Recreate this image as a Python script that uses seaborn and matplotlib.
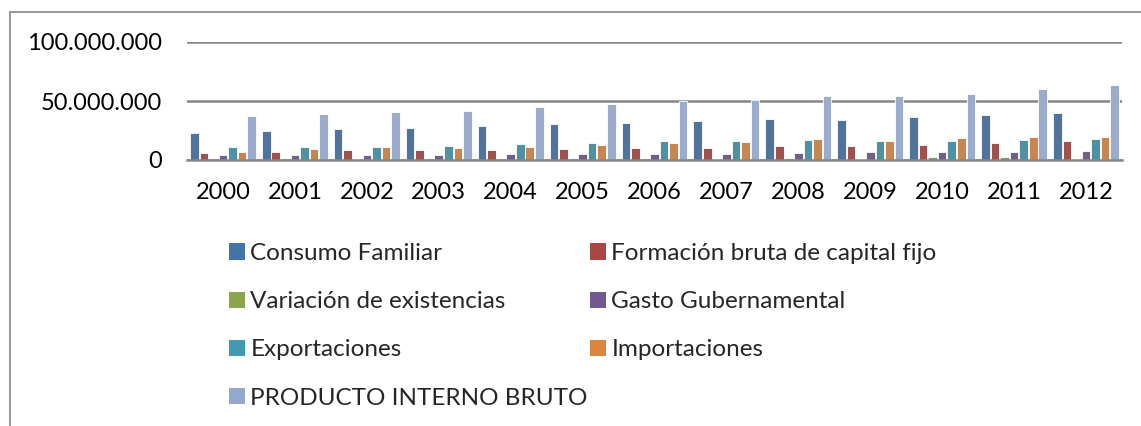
import pandas as pd
import matplotlib.pyplot as plt
import matplotlib.patches as mpatches
from matplotlib.lines import Line2D
from matplotlib.ticker import FuncFormatter
import seaborn as sns

years = ["2000", "2001", "2002", "2003", "2004", "2005", "2006",
         "2007", "2008", "2009", "2010", "2011", "2012"]

# values in millions
consumo = [22.5, 24.5, 26.4, 27.3, 28.7, 30.1, 31.5, 32.9, 34.6, 34.3, 36.3, 38.0, 39.6]
formacion = [5.6, 6.5, 8.2, 8.4, 8.4, 9.3, 9.8, 10.1, 12.1, 11.5, 12.4, 14.0, 16.0]
variacion = [0.1, 0.3, 0.8, 0.1, 0.2, 0.1, 0.3, 0.5, 1.7, 1.0, 2.5, 2.5, 1.0]
gasto = [4.2, 4.2, 4.2, 4.2, 4.8, 4.8, 5.0, 5.3, 5.9, 6.7, 6.7, 7.0, 7.6]
exportaciones = [11.0, 10.7, 10.7, 11.5, 13.5, 14.6, 15.7, 15.7, 16.6, 15.7, 16.3, 16.9, 17.7]
importaciones = [7.0, 9.0, 10.7, 10.1, 11.2, 12.9, 14.0, 15.2, 17.7, 16.0, 18.5, 19.4, 19.4]
pib = [37.7, 39.0, 40.8, 41.9, 45.0, 47.2, 50.0, 50.6, 54.0, 54.2, 55.9, 60.2, 63.3]

series = ["Consumo Familiar", "Formación bruta de capital fijo", "Variación de existencias",
          "Gasto Gubernamental", "Exportaciones", "Importaciones", "PRODUCTO INTERNO BRUTO"]
colors = ["#4572A7", "#AA4643", "#89A54E", "#71588F", "#4198AF", "#DB843D", "#93A9CF"]

values = [consumo, formacion, variacion, gasto, exportaciones, importaciones, pib]
rows = []
for name, vals in zip(series, values):
    for y, v in zip(years, vals):
        rows.append({"Año": y, "Serie": name, "Valor": v * 1e6})
df = pd.DataFrame(rows)

sns.set_style("white")
plt.rcParams['font.family'] = ['Lato', 'DejaVu Sans']

fig = plt.figure(figsize=(11.41, 4.26), dpi=100)
ax = fig.add_axes([187 / 1141, 1 - 160 / 426, (1122 - 187) / 1141, (160 - 42) / 426])

sns.barplot(data=df, x="Año", y="Valor", hue="Serie", hue_order=series,
            palette=colors, width=0.93, gap=0.1, edgecolor="white", linewidth=0.6,
            legend=False, ax=ax)

ax.set_ylim(0, 100e6)
ax.set_yticks([0, 50e6, 100e6])
ax.yaxis.set_major_formatter(FuncFormatter(lambda v, p: f"{int(v):,}".replace(",", ".")))
ax.grid(axis="y", color="#868686", linewidth=1.8)
ax.set_axisbelow(True)
for s in ["top", "right", "left"]:
    ax.spines[s].set_visible(False)
ax.spines["bottom"].set_color("#868686")
ax.spines["bottom"].set_linewidth(1.8)
ax.tick_params(axis="both", length=0, labelsize=17, colors="black")
ax.tick_params(axis="x", pad=16)
ax.tick_params(axis="y", pad=18)
ax.set_xlabel("")
ax.set_ylabel("")
ax.set_xlim(-0.5, len(years) - 0.5)

# chart border (top and left visible)
fig.add_artist(Line2D([10 / 1141, 10 / 1141], [0, 1 - 12 / 426], color="#9a9a9a", lw=1.5))
fig.add_artist(Line2D([10 / 1141, 1], [1 - 12 / 426, 1 - 12 / 426], color="#9a9a9a", lw=1.5))

handles = [mpatches.Patch(facecolor=c, edgecolor="none") for c in colors]
left_idx = [0, 2, 4, 6]
right_idx = [1, 3, 5]
leg_kw = dict(frameon=False, fontsize=17.5, handlelength=0.66, handleheight=0.66,
              handletextpad=0.22, labelspacing=1.12, borderpad=0, borderaxespad=0,
              loc="upper left")
leg1 = fig.legend([handles[i] for i in left_idx], [series[i] for i in left_idx],
                  bbox_to_anchor=(229 / 1141, 1 - 243 / 426), **leg_kw)
leg2 = fig.legend([handles[i] for i in right_idx], [series[i] for i in right_idx],
                  bbox_to_anchor=(590 / 1141, 1 - 243 / 426), **leg_kw)

fig.savefig("out.png", dpi=100)
